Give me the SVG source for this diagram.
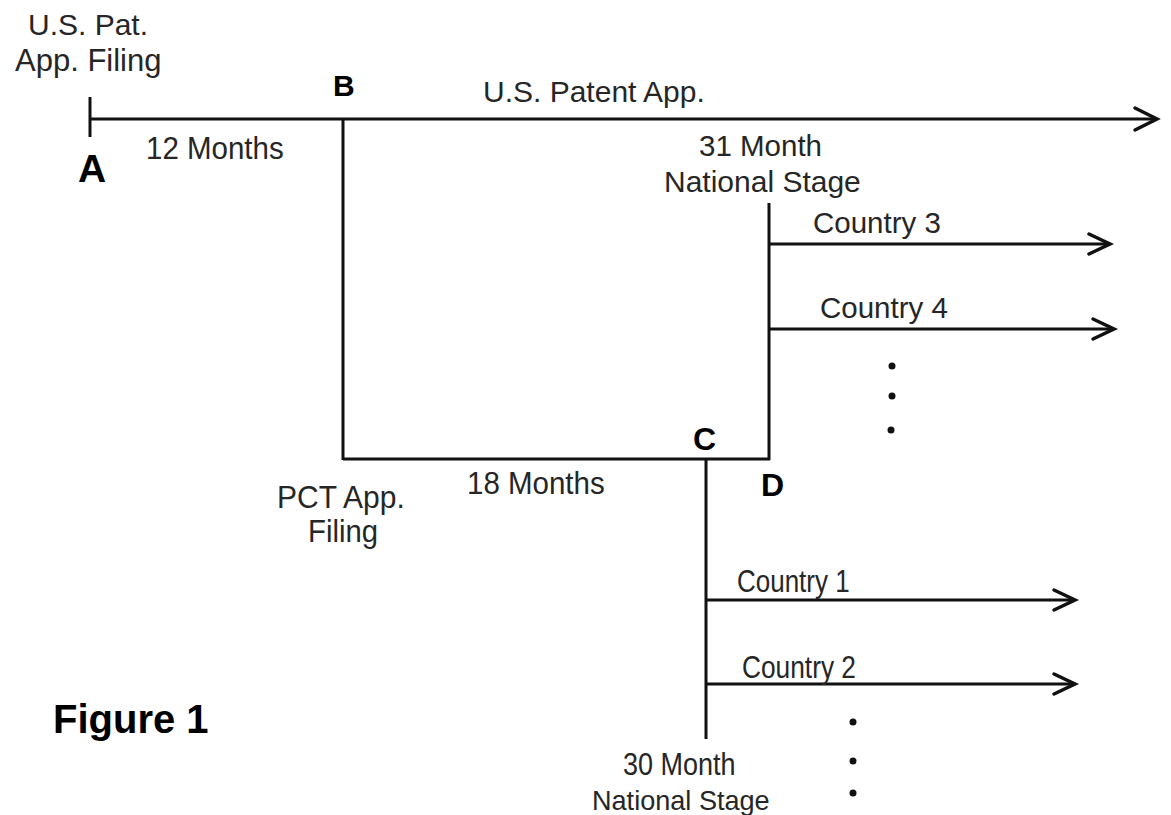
<svg xmlns="http://www.w3.org/2000/svg" width="1171" height="815" viewBox="0 0 1171 815">
<style>
.t{font-family:"Liberation Sans",Arial,sans-serif;fill:#262626;}
.b{font-family:"Liberation Sans",Arial,sans-serif;font-weight:bold;fill:#000;}
.ln{stroke:#111;stroke-width:3;fill:none;}
.hd{stroke:#111;stroke-width:3.5;fill:none;stroke-linecap:round;stroke-linejoin:miter;}
.dot{fill:#111;}
</style>
<rect width="1171" height="815" fill="#fff"/>
<g id="connectors">
<line class="ln" x1="90" y1="97" x2="90" y2="137"/>
<line class="ln" x1="90" y1="119" x2="1155" y2="119"/>
<polyline class="hd" points="1135,108 1157,119 1135,130"/>
<line class="ln" x1="343" y1="119" x2="343" y2="460"/>
<line class="ln" x1="343" y1="459" x2="770" y2="459"/>
<line class="ln" x1="769" y1="203" x2="769" y2="460"/>
<line class="ln" x1="706" y1="459" x2="706" y2="739"/>
<line class="ln" x1="769" y1="244" x2="1108" y2="244"/>
<polyline class="hd" points="1089,234 1110,244 1089,254"/>
<line class="ln" x1="769" y1="329" x2="1112" y2="329"/>
<polyline class="hd" points="1093,319 1114,329 1093,339"/>
<line class="ln" x1="706" y1="600" x2="1073" y2="600"/>
<polyline class="hd" points="1054,590 1075,600 1054,610"/>
<line class="ln" x1="706" y1="684" x2="1073" y2="684"/>
<polyline class="hd" points="1054,674 1075,684 1054,694"/>
</g>
<g id="node-A">
<text class="t" x="28" y="35" font-size="30">U.S. Pat.</text>
<text class="t" x="15" y="71" font-size="31">App. Filing</text>
<text class="b" x="78" y="182" font-size="39">A</text>
</g>
<g id="label-12months"><text class="t" transform="translate(146,159) scale(1,1.07)" font-size="29.5">12 Months</text></g>
<g id="node-B"><text class="b" x="333" y="96" font-size="30">B</text></g>
<g id="label-us-patent"><text class="t" x="483" y="102" font-size="30">U.S. Patent App.</text></g>
<g id="label-31month">
<text class="t" x="699" y="156" font-size="29.5">31 Month</text>
<text class="t" x="664" y="192" font-size="30">National Stage</text>
</g>
<g id="label-country3"><text class="t" x="813" y="233" font-size="29.5">Country 3</text></g>
<g id="label-country4"><text class="t" x="820" y="318" font-size="29.5">Country 4</text></g>
<g id="dots-upper">
<circle class="dot" cx="892" cy="366" r="3.5"/>
<circle class="dot" cx="892" cy="396" r="3.5"/>
<circle class="dot" cx="891" cy="430" r="3.5"/>
</g>
<g id="node-C"><text class="b" x="693" y="450" font-size="32">C</text></g>
<g id="node-D"><text class="b" x="761" y="496" font-size="32">D</text></g>
<g id="label-pct">
<text class="t" transform="translate(277,508) scale(1,1.07)" font-size="30">PCT App.</text>
<text class="t" transform="translate(308,542) scale(1,1.05)" font-size="29.3">Filing</text>
</g>
<g id="label-18months"><text class="t" transform="translate(467,494) scale(1,1.05)" font-size="29.5">18 Months</text></g>
<g id="label-country1"><text class="t" transform="translate(737,592) scale(1,1.18)" font-size="26">Country 1</text></g>
<g id="label-country2"><text class="t" transform="translate(742,678) scale(1,1.18)" font-size="26.3">Country 2</text></g>
<g id="dots-lower">
<circle class="dot" cx="853" cy="722" r="3.5"/>
<circle class="dot" cx="853" cy="761" r="3.5"/>
<circle class="dot" cx="853" cy="793" r="3.5"/>
</g>
<g id="label-30month">
<text class="t" transform="translate(623,775) scale(1,1.18)" font-size="27">30 Month</text>
<text class="t" transform="translate(592,810) scale(1,1.05)" font-size="27.1">National Stage</text>
</g>
<g id="figure-title"><text class="b" x="53" y="733" font-size="40">Figure 1</text></g>
</svg>
